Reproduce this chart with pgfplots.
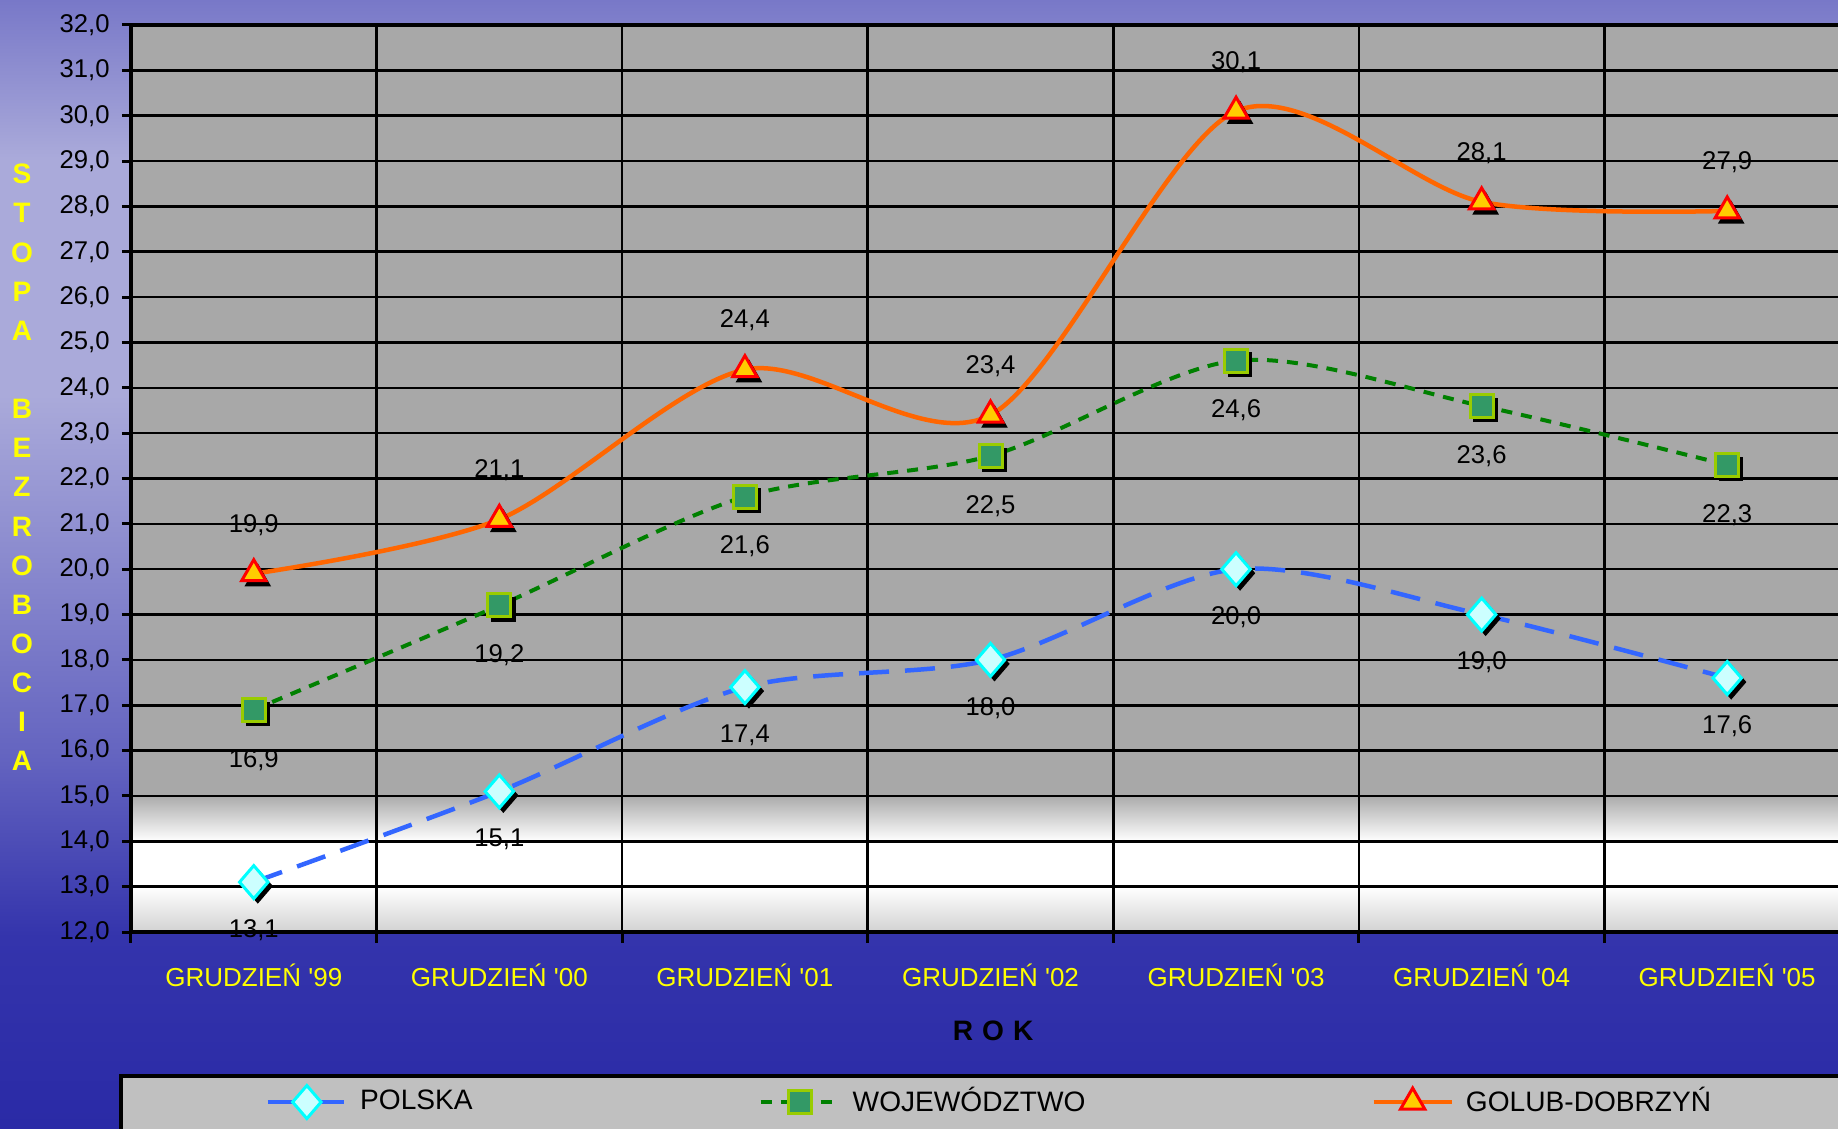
\documentclass[border=0pt]{standalone}
\usepackage{pgfplots}
\pgfplotsset{compat=1.18}
\usepackage{fontspec}
\setmainfont{Liberation Sans}
\pgfkeys{/pgf/number format/assume math mode=true}
\definecolor{pgray}{RGB}{168,168,168}
\definecolor{plow}{RGB}{210,210,210}
\definecolor{bgA}{RGB}{42,42,166}
\definecolor{bgB}{RGB}{52,52,172}
\definecolor{bgC}{RGB}{100,100,192}
\definecolor{bgD}{RGB}{170,170,218}
\definecolor{bgE}{RGB}{120,120,200}
\definecolor{leggray}{RGB}{192,192,192}
\definecolor{polblue}{RGB}{51,102,255}
\definecolor{polfill}{RGB}{204,255,255}
\definecolor{polcyan}{RGB}{0,255,255}
\definecolor{wojgreen}{RGB}{0,128,0}
\definecolor{wojfill}{RGB}{51,153,102}
\definecolor{wojedge}{RGB}{153,204,0}
\definecolor{golorange}{RGB}{255,102,0}
\definecolor{golfill}{RGB}{255,204,0}
\definecolor{golred}{RGB}{255,0,0}
\definecolor{ylw}{RGB}{255,255,0}
\pgfdeclareverticalshading{plotbg}{100bp}{color(0bp)=(plow); color(25bp)=(plow); color(27.5bp)=(white); color(30bp)=(white); color(32.6bp)=(pgray); color(100bp)=(pgray)}
\pgfdeclareverticalshading{pagebg}{100bp}{color(0bp)=(bgA); color(25bp)=(bgA); color(33.5bp)=(bgB); color(41.5bp)=(bgC); color(57.5bp)=(bgD); color(68bp)=(bgD); color(75bp)=(bgE); color(100bp)=(bgE)}
\begin{document}
\begin{tikzpicture}
\shade[shading=pagebg] (0,0) rectangle (183.8mm,112.8mm);
\draw[fill=leggray, line width=0.35mm] (12.1mm,-3mm) rectangle (190mm,5.2mm);
\begin{axis}[
  at={(13.1mm,19.6mm)}, anchor=south west,
  scale only axis, width=171.9mm, height=90.7mm,
  xmin=-0.5, xmax=6.5, ymin=12, ymax=32,
  axis background/.style={shading=plotbg},
  xtick={0,...,6},
  xticklabels={GRUDZIEŃ \textquotesingle 99, GRUDZIEŃ \textquotesingle 00, GRUDZIEŃ \textquotesingle 01, GRUDZIEŃ \textquotesingle 02, GRUDZIEŃ \textquotesingle 03, GRUDZIEŃ \textquotesingle 04, GRUDZIEŃ \textquotesingle 05},
  minor xtick={-0.5,0.5,...,6.5},
  major x tick style={draw=none},
  ytick={12,13,...,32},
  yticklabel={\pgfmathprintnumber[fixed,fixed zerofill,precision=1,use comma]{\tick}},
  xminorgrids, ymajorgrids,
  grid style={black, line width=0.25mm},
  minor grid style={black, line width=0.25mm},
  tick align=outside, major tick length=0.9mm, minor tick length=1.1mm,
  tick style={black, line width=0.3mm},
  xtick pos=lower, ytick pos=left,
  axis line style={black, line width=0.35mm},
  xticklabel style={text=ylw, font=\fontsize{7.4}{8}\selectfont, yshift=-1.05mm},
  yticklabel style={font=\fontsize{7.3}{8}\selectfont},
  xlabel={\bfseries R\hspace{0.9mm}O\hspace{0.9mm}K},
  xlabel style={at={(axis description cs:0.5015,-0.109)}, anchor=center, font=\fontsize{8}{9}\selectfont},
  ylabel={S\\T\\O\\P\\A\\~\\B\\E\\Z\\R\\O\\B\\O\\C\\I\\A},
  ylabel style={rotate=-90, at={(axis description cs:-0.0634,0.5121)}, anchor=center, align=center, text=ylw, font=\fontsize{8}{11.14}\selectfont\bfseries},
  clip=false,
  point meta=y,
  nodes near coords={\pgfmathprintnumber[fixed,fixed zerofill,precision=1,use comma]{\pgfplotspointmeta}},
  every node near coord/.append style={text=black, anchor=center, font=\fontsize{7.3}{8}\selectfont},
  legend columns=3,
  legend cell align=left,
  legend style={draw=none, fill=none, at={(axis description cs:0.0779,-0.1875)}, anchor=west, inner sep=0pt, font=\fontsize{8}{9}\selectfont, text=black, /tikz/every even column/.append style={column sep=27.9mm}, /tikz/every odd column/.append style={column sep=0.5mm}},
  legend image code/.code={\draw[mark repeat=2,mark phase=2,#1] plot coordinates {(0mm,0mm) (3.9mm,0mm) (7.8mm,0mm)};},
]
% shadows
\addplot[forget plot, only marks, black, mark=diamond*, mark size=1.65mm, mark options={xshift=0.4mm, yshift=-0.4mm, xscale=1.15}, nodes near coords={}] coordinates {(0,13.1) (1,15.1) (2,17.4) (3,18.0) (4,20.0) (5,19.0) (6,17.6)};
\addplot[forget plot, only marks, black, mark=square*, mark size=1.15mm, mark options={xshift=0.4mm, yshift=-0.4mm}, nodes near coords={}] coordinates {(0,16.9) (1,19.2) (2,21.6) (3,22.5) (4,24.6) (5,23.6) (6,22.3)};
\addplot[forget plot, only marks, black, mark=triangle*, mark size=1.4mm, mark options={xshift=0.4mm, yshift=-0.5mm}, nodes near coords={}] coordinates {(0,19.9) (1,21.1) (2,24.4) (3,23.4) (4,30.1) (5,28.1) (6,27.9)};
% POLSKA
\addplot[polblue, line width=0.45mm, dash pattern=on 3mm off 1.6mm, smooth,
  mark=diamond*, mark size=1.65mm, mark options={solid, fill=polfill, draw=polcyan, line width=0.3mm, xscale=1.15},
  every node near coord/.append style={yshift=-4.8mm}]
  coordinates {(0,13.1) (1,15.1) (2,17.4) (3,18.0) (4,20.0) (5,19.0) (6,17.6)};
% WOJEWODZTWO
\addplot[wojgreen, line width=0.4mm, dash pattern=on 1.1mm off 0.9mm, smooth,
  mark=square*, mark size=1.15mm, mark options={solid, fill=wojfill, draw=wojedge, line width=0.3mm},
  every node near coord/.append style={yshift=-5.0mm}]
  coordinates {(0,16.9) (1,19.2) (2,21.6) (3,22.5) (4,24.6) (5,23.6) (6,22.3)};
% GOLUB-DOBRZYN
\addplot[golorange, line width=0.45mm, smooth,
  mark=triangle*, mark size=1.4mm, mark options={solid, fill=golfill, draw=golred, line width=0.3mm},
  every node near coord/.append style={yshift=4.9mm}]
  coordinates {(0,19.9) (1,21.1) (2,24.4) (3,23.4) (4,30.1) (5,28.1) (6,27.9)};
\legend{POLSKA, WOJEWÓDZTWO, GOLUB-DOBRZYŃ}
\end{axis}
\pgfresetboundingbox
\path[use as bounding box] (0,0) rectangle (183.8mm,112.8mm);
\end{tikzpicture}
\end{document}
